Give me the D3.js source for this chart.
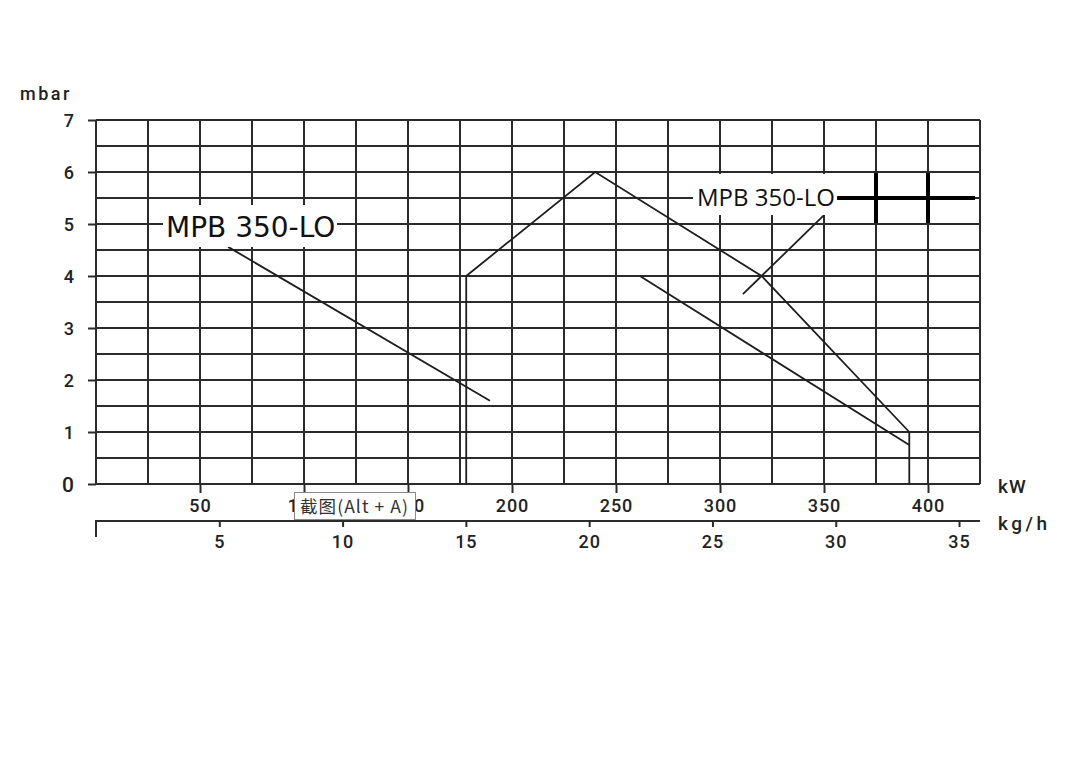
<!DOCTYPE html>
<html><head><meta charset="utf-8">
<script src="https://cdn.jsdelivr.net/npm/d3@7"></script>
<style>body{margin:0;background:#fff}</style></head>
<body><svg id="c" width="1071" height="765"></svg>
<script>
const mbarTicks=[0,1,2,3,4,5,6,7];
const kwTicks=[50,100,150,200,250,300,350,400];
const kghTicks=[5,10,15,20,25,30,35];
const upperKw=[178,178,240,320,391,391];
const upperMbar=[0,4,6,4,1,0];
const lowerKw=[261.5,391];
const lowerMbar=[4,0.75];
const leftKw=[63.5,189.4];
const leftMbar=[4.56,1.6];
const pointerKw=[311,350];
const pointerMbar=[3.65,5.17];
const labelText="MPB 350-LO";
const tipText="截图(Alt + A)";

const svg=d3.select('#c');
svg.append('rect').attr('width',1071).attr('height',765).attr('fill','#fff');
const x=d3.scaleLinear().domain([0,425]).range([96,980]);
const y=d3.scaleLinear().domain([0,7]).range([484,120]);
const xk=d3.scaleLinear().domain([0,35.85]).range([96,980]);
const ink='#2b2b2b';
const numFont='Roboto,"DejaVu Sans",sans-serif';
const numW=500;

// grid
const g=svg.append('g').attr('stroke',ink).attr('stroke-width',2);
g.selectAll('.vg').data(d3.range(0,426,25)).join('line')
  .attr('x1',d=>x(d)).attr('x2',d=>x(d)).attr('y1',y(7)).attr('y2',y(0));
g.selectAll('.hg').data(d3.range(0,7.01,0.5)).join('line')
  .attr('x1',x(0)).attr('x2',x(425)).attr('y1',d=>y(d)).attr('y2',d=>y(d));

// y axis
const ya=svg.append('g').attr('transform',`translate(${x(0)},0)`)
  .call(d3.axisLeft(y).tickValues(mbarTicks).tickFormat(d3.format('d')).tickSize(8).tickPadding(14));
ya.select('.domain').remove();
ya.selectAll('line').attr('stroke',ink).attr('stroke-width',2);
ya.selectAll('text').attr('font-family',numFont).attr('font-weight',numW).attr('font-size',d=>d===0?21:18)
  .attr('fill','#222').attr('dy',d=>d===0?'0.36em':'0.34em');

// kW axis
const xa=svg.append('g').attr('transform',`translate(0,${y(0)})`)
  .call(d3.axisBottom(x).tickValues(kwTicks).tickFormat(d3.format('d')).tickSize(9).tickPadding(12));
xa.select('.domain').remove();
xa.selectAll('line').attr('stroke',ink).attr('stroke-width',2);
xa.selectAll('text').attr('font-family',numFont).attr('font-weight',numW).attr('font-size',18).attr('fill','#222')
  .attr('letter-spacing',1).attr('y',28).attr('dy',0);

// kg/h axis
const ka=svg.append('g').attr('transform','translate(0,521)')
  .call(d3.axisBottom(xk).tickValues(kghTicks).tickFormat(d3.format('d')).tickSize(6).tickPadding(10));
ka.select('.domain').remove();
ka.selectAll('line').attr('stroke',ink).attr('stroke-width',2);
ka.selectAll('text').attr('font-family',numFont).attr('font-weight',numW).attr('font-size',18).attr('fill','#222')
  .attr('letter-spacing',1).attr('y',27).attr('dy',0);
svg.append('line').attr('x1',xk(0)).attr('x2',xk(35.85)).attr('y1',521).attr('y2',521)
  .attr('stroke',ink).attr('stroke-width',2);
svg.append('line').attr('x1',xk(0)).attr('x2',xk(0)).attr('y1',520).attr('y2',537)
  .attr('stroke',ink).attr('stroke-width',2);

// unit labels
svg.append('text').attr('x',20).attr('y',100).text('mbar').attr('font-family',numFont).attr('font-weight',numW)
  .attr('font-size',18).attr('letter-spacing',2.5).attr('fill','#222');
svg.append('text').attr('x',998).attr('y',493).text('kW').attr('font-family',numFont).attr('font-weight',numW)
  .attr('font-size',19).attr('letter-spacing',1).attr('fill','#222');
svg.append('text').attr('x',998).attr('y',530).text('kg/h').attr('font-family',numFont).attr('font-weight',numW)
  .attr('font-size',19).attr('letter-spacing',3.5).attr('fill','#222');

// curves
const line=d3.line().x(d=>x(d[0])).y(d=>y(d[1]));
const curves=svg.append('g').attr('fill','none').attr('stroke','#1e1e1e').attr('stroke-width',1.8)
  .attr('stroke-linejoin','miter');
curves.append('path').attr('d',line(d3.zip(upperKw,upperMbar)));
curves.append('path').attr('d',line(d3.zip(lowerKw,lowerMbar)));
curves.append('path').attr('d',line(d3.zip(leftKw,leftMbar)));
curves.append('path').attr('d',line(d3.zip(pointerKw,pointerMbar)));

// label boxes
svg.append('rect').attr('x',163).attr('y',205).attr('width',174).attr('height',42).attr('fill','#fff');
svg.append('text').attr('x',166).attr('y',237).text(labelText)
  .attr('font-family','"DejaVu Sans",sans-serif').attr('font-size',28).attr('fill','#111');
svg.append('rect').attr('x',693).attr('y',174).attr('width',144).attr('height',41).attr('fill','#fff');
svg.append('text').attr('x',697).attr('y',206).text(labelText)
  .attr('font-family','"Open Sans",sans-serif').attr('font-size',24).attr('fill','#111');

// thick marker
const thick=svg.append('g').attr('stroke','#000').attr('stroke-width',4);
thick.append('line').attr('x1',x(356.3)).attr('x2',x(422.6)).attr('y1',y(5.5)).attr('y2',y(5.5));
[375,400].forEach(v=>thick.append('line').attr('x1',x(v)).attr('x2',x(v)).attr('y1',y(5.98)).attr('y2',y(5.02)));

// tooltip overlay
svg.append('rect').attr('x',294.5).attr('y',492.5).attr('width',121).attr('height',27)
  .attr('fill','#fff').attr('stroke','#8a8a8a').attr('stroke-width',1);
svg.append('text').attr('x',300).attr('y',513).text(tipText)
  .attr('font-family','"Noto Sans CJK SC","Noto Sans",sans-serif').attr('font-size',17.5).attr('fill','#333')
  .attr('textLength',108).attr('lengthAdjust','spacing');
</script></body></html>
